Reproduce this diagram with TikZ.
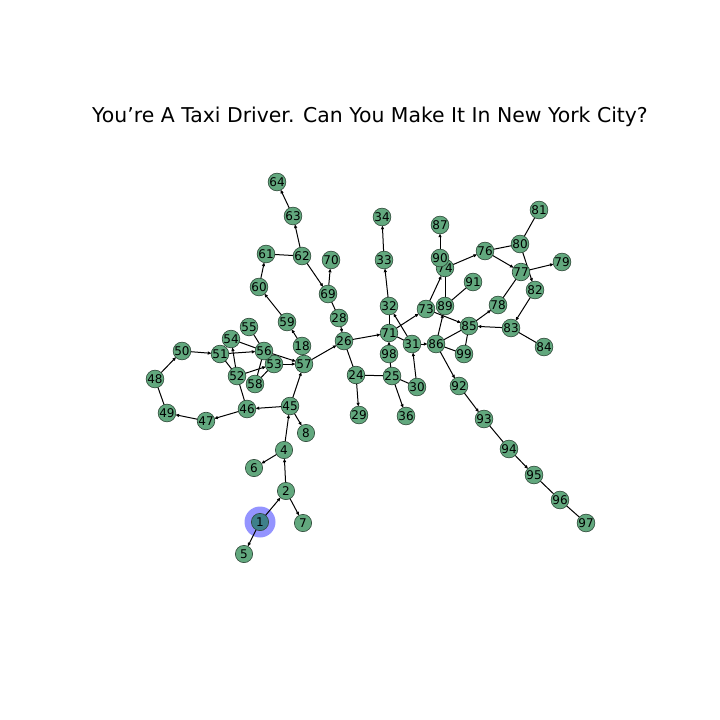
\documentclass[tikz,border=0pt]{standalone}
\usepackage{fontspec}
\setmainfont{DejaVu Sans}
\usetikzlibrary{arrows.meta}
\definecolor{nodegreen}{RGB}{98,168,126}
\definecolor{nodeedge}{RGB}{45,70,55}
\definecolor{nodeteal}{RGB}{62,128,138}
\tikzset{
  gnode/.style={circle,fill=nodegreen,draw=nodeedge,line width=0.6pt,minimum size=17.3pt,inner sep=0pt,font=\fontsize{12}{12}\selectfont,text=black},
  ln/.style={draw=black,line width=1pt},
  ar/.style={ln,-{Latex[length=4pt,width=3.5pt]}},
}
\begin{document}
\begin{tikzpicture}[x=1pt,y=-1pt]
\useasboundingbox (0,0) rectangle (720,720);
\node[font=\fontsize{20.4}{20.4}\selectfont] (title) at (370,117) {You’re A Taxi Driver. Can You Make It In New York City?};
\fill[blue,opacity=0.42] (260,522) circle (15.5pt);
\foreach \n/\x/\y in {
1/260/522, 2/286/491, 4/284/450, 5/244/554, 6/254/468, 7/303/523, 8/306/433,
45/290/406, 46/247/409, 47/206/421, 49/167/413, 48/155/379, 50/182/351,
51/220/354, 52/237/376, 53/274/364, 54/231/339, 55/249/327, 56/264/351,
57/304/364, 58/255/384, 18/302/346, 59/287/322, 60/259/287, 61/266/254,
62/302/256, 63/293/216, 64/277/182, 69/328/294, 70/331/260, 28/339/318,
26/344/341, 24/356/375, 29/359/415, 25/392/376, 36/406/416, 30/417/387,
98/389/354, 71/389/333, 32/389/306, 33/384/260, 34/382/217, 31/412/344,
73/426/309, 86/436/344, 89/445/306, 74/445/268, 90/440/258, 87/440/225,
91/473/282, 85/469/326, 99/464/354, 78/498/305, 83/511/328, 84/544/347,
82/535/290, 77/521/272, 79/562/262, 80/520/244, 81/539/210, 76/485/251,
92/459/386, 93/484/419, 94/509/449, 95/534/475, 96/560/500, 97/586/523}
  \coordinate (c\n) at (\x,\y);
% edges (drawn first, under nodes)
\begin{scope}
\foreach \a/\b in {1/2,2/7,2/4,4/45,45/46,46/47,47/49,48/50,50/51,51/56,52/54,52/53,
  56/57,53/57,45/57,18/59,59/60,60/61,62/63,63/64,62/69,69/70,28/26,57/26,26/71,
  24/29,25/36,98/71,32/33,33/34,31/32,71/73,31/86,30/31,73/85,73/74,86/89,74/76,
  90/87,86/92,92/93,85/78,76/77,80/82,77/79,82/83,83/85,4/6,45/8,1/5,94/95}
  \path[ar,shorten >=8.2pt,shorten <=8.2pt] (c\a) -- (c\b);
\foreach \a/\b in {49/48,51/52,46/52,54/56,55/56,58/53,58/56,56/53,18/57,61/62,
  69/28,26/24,24/25,25/30,25/98,71/32,71/31,89/74,89/91,86/85,86/99,85/99,78/77,
  80/76,80/81,83/84,93/94,95/96,96/97}
  \path[ln] (c\a) -- (c\b);
\end{scope}
\foreach \n in {2,4,5,6,7,8,45,46,47,49,48,50,51,52,53,54,55,56,57,58,18,59,60,61,
  62,63,64,69,70,28,26,24,29,25,36,30,98,71,32,33,34,31,73,86,89,74,90,87,91,85,99,
  78,83,84,82,77,79,80,81,76,92,93,94,95,96,97}
  \node[gnode] (n\n) at (c\n) {\n};
\node[gnode,fill=nodeteal] (n1) at (c1) {1};
\end{tikzpicture}
\end{document}
